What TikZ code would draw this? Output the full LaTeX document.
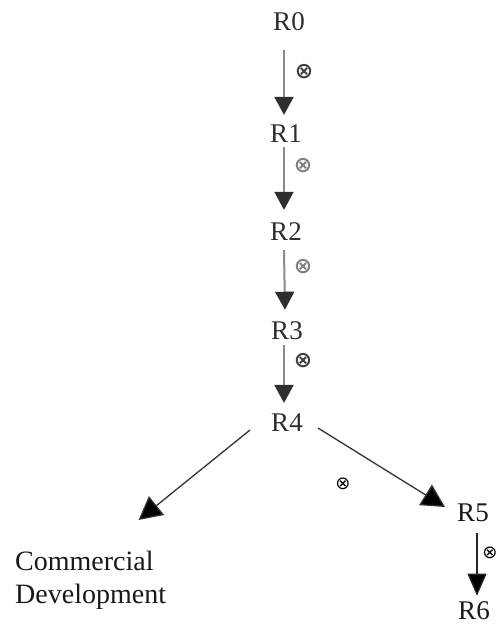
\documentclass[tikz,border=0pt]{standalone}
\usepackage{fontspec}
\setmainfont{Liberation Serif}
\newfontfamily\dejavu{DejaVu Sans}
\usetikzlibrary{arrows.meta}
\definecolor{stemgray}{HTML}{8A8A8A}
\definecolor{headgray}{HTML}{2E2E2E}
\tikzset{
  rlabel/.style={inner sep=0pt, text=black!82, font=\fontsize{27}{30}\selectfont},
  otlabel/.style={inner sep=0pt, font=\dejavu\bfseries\fontsize{22}{24}\selectfont},
  otsmall/.style={otlabel, font=\dejavu\fontsize{18}{20}\selectfont},
  toparrow/.style={draw=stemgray, line width=2pt,
    -{Triangle[width=19pt,length=18pt,fill=headgray,color=headgray]}},
  bigarrow/.style={draw=black!80, line width=1.3pt,
    -{Triangle[width=24pt,length=23pt,fill=black]}},
  smallarrow/.style={draw=black!85, line width=1.2pt,
    -{Triangle[width=19pt,length=22pt,fill=black]}},
}
\begin{document}
\begin{tikzpicture}[x=1pt,y=-1pt]
\useasboundingbox (0,0) rectangle (498,625);
% level nodes
\node[rlabel] (R0) at (289,22) {R0};
\node[rlabel] (R1) at (286,134) {R1};
\node[rlabel] (R2) at (286,232) {R2};
\node[rlabel] (R3) at (287,331) {R3};
\node[rlabel] (R4) at (287,423) {R4};
\node[rlabel, text=black!90] (R5) at (473,513) {R5};
\node[rlabel, text=black!90] (R6) at (474,611) {R6};
\node[rlabel, anchor=north west, align=left, text=black!90, font=\fontsize{28}{33}\selectfont]
  (CD) at (15,551) {Commercial\\Development};
% otimes labels
\node[otlabel, text=black!75] (o1) at (304,72) {⊗};
\node[otlabel, text=gray] (o2) at (303,166) {⊗};
\node[otlabel, text=gray] (o3) at (303,267) {⊗};
\node[otlabel, text=black!75] (o4) at (303,361) {⊗};
\node[otsmall] (o5) at (343,484) {⊗};
\node[otsmall] (o6) at (490,553) {⊗};
% vertical arrows
\draw[toparrow] ([shift={(-5,19)}]R0.south) -- ([shift={(-2,-10)}]R1.north);
\draw[toparrow] ([shift={(-2,4)}]R1.south) -- ([shift={(-2,-13)}]R2.north);
\draw[toparrow] ([shift={(-2,9)}]R2.south) -- ([shift={(-2,-12)}]R3.north);
\draw[toparrow] ([shift={(-3,5)}]R3.south) -- ([shift={(-3,-11)}]R4.north);
% branches
\draw[bigarrow] ([shift={(-21,7)}]R4.west) -- ([shift={(48,-31)}]CD.north);
\draw[bigarrow] ([shift={(15,5)}]R4.east) -- ([shift={(-12,-6)}]R5.west);
\draw[smallarrow] ([shift={(4,11)}]R5.south) -- ([shift={(3,-6)}]R6.north);
\end{tikzpicture}
\end{document}
